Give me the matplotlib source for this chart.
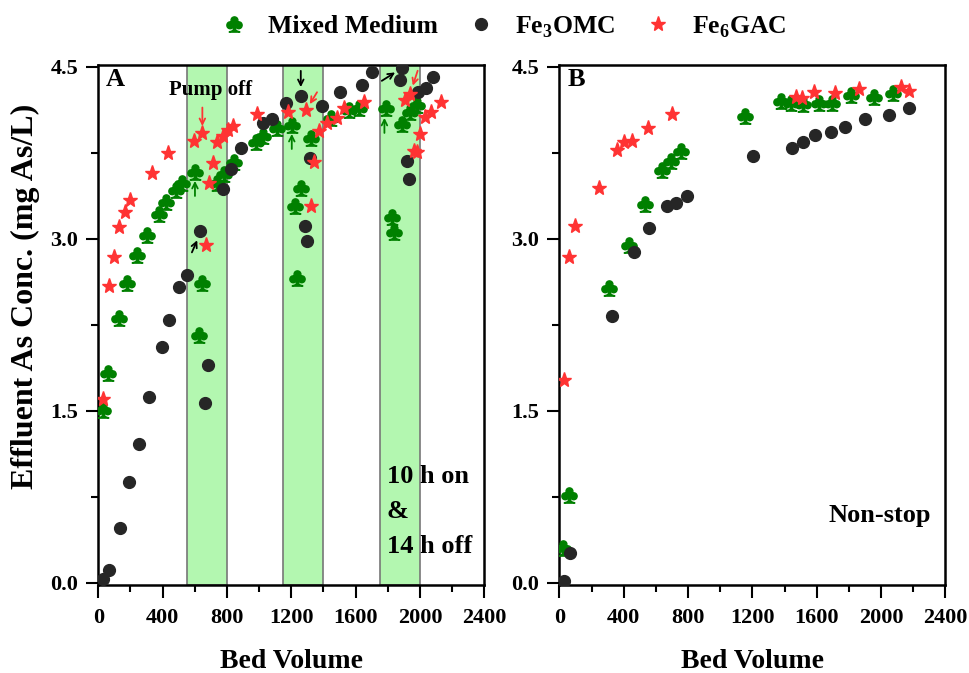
import matplotlib
matplotlib.use('Agg')
import matplotlib.pyplot as plt
from matplotlib.ticker import MultipleLocator, FormatStrFormatter

plt.rcParams['font.family'] = ['Liberation Serif', 'DejaVu Serif']
plt.rcParams['font.weight'] = 'bold'
plt.rcParams['mathtext.fontset'] = 'custom'
plt.rcParams['mathtext.rm'] = 'Liberation Serif:bold'
plt.rcParams['mathtext.bf'] = 'Liberation Serif:bold'

# ---- panel A: 10 h on / 14 h off ----
a_mix_x = [31, 62, 131, 180, 243, 301, 378, 421, 483, 519, 601, 628, 647, 736, 782, 844,
           979, 1027, 1114, 1203, 1224, 1234, 1259, 1321, 1446, 1561, 1624, 1788, 1829,
           1840, 1891, 1935, 1981]
a_mix_y = [1.507, 1.827, 2.307, 2.613, 2.86, 3.034, 3.215, 3.325, 3.427, 3.485, 3.587, 2.161,
           2.613, 3.485, 3.564, 3.674, 3.843, 3.898, 3.965, 3.994, 3.287, 2.661, 3.447, 3.883,
           4.052, 4.125, 4.14, 4.145, 3.194, 3.063, 4.003, 4.105, 4.168]

a_omc_x = [31, 68, 135, 191, 253, 315, 394, 442, 504, 550, 633, 664, 680, 778, 826, 886,
           1027, 1079, 1168, 1259, 1286, 1296, 1317, 1390, 1504, 1639, 1701, 1877, 1891,
           1922, 1933, 1987, 2037, 2080]
a_omc_y = [0.03, 0.111, 0.48, 0.881, 1.21, 1.623, 2.054, 2.292, 2.578, 2.685, 3.069, 1.565,
           1.9, 3.435, 3.61, 3.79, 4.014, 4.046, 4.189, 4.247, 3.115, 2.982, 3.703, 4.16,
           4.285, 4.343, 4.454, 4.386, 4.489, 3.68, 3.52, 4.285, 4.32, 4.415]

a_gac_x = [31, 67, 98, 131, 166, 197, 336, 432, 597, 647, 670, 691, 711, 741, 774, 809, 840,
           989, 1178, 1292, 1321, 1342, 1375, 1421, 1483, 1528, 1649, 1908, 1935, 1964, 1981,
           2001, 2032, 2068, 2130]
a_gac_y = [1.603, 2.589, 2.845, 3.101, 3.232, 3.339, 3.578, 3.747, 3.854, 3.921, 2.947, 3.485,
           3.665, 3.843, 3.898, 3.95, 3.985, 4.087, 4.105, 4.125, 3.287, 3.668, 3.941, 4.014,
           4.052, 4.14, 4.197, 4.212, 4.262, 3.77, 3.756, 3.915, 4.066, 4.11, 4.197]

# pump-off periods (bed volume)
off_start = [550, 1150, 1750]
off_end = [800, 1400, 2000]

# ---- panel B: non-stop ----
b_mix_x = [24, 61, 309, 434, 531, 639, 691, 753, 1152, 1380, 1442, 1514, 1614, 1697, 1811,
           1953, 2073]
b_mix_y = [0.3, 0.765, 2.569, 2.947, 3.304, 3.601, 3.68, 3.767, 4.075, 4.206, 4.189, 4.177,
           4.183, 4.189, 4.256, 4.241, 4.27]

b_omc_x = [28, 65, 324, 463, 556, 666, 722, 790, 1204, 1446, 1514, 1587, 1691, 1778, 1898,
           2047, 2173]
b_omc_y = [0.017, 0.256, 2.33, 2.888, 3.098, 3.29, 3.316, 3.374, 3.723, 3.79, 3.848, 3.907,
           3.93, 3.979, 4.046, 4.081, 4.145]

b_gac_x = [28, 61, 96, 245, 355, 403, 448, 548, 701, 1469, 1510, 1581, 1711, 1862, 2125, 2173]
b_gac_y = [1.769, 2.839, 3.115, 3.441, 3.776, 3.843, 3.854, 3.97, 4.087, 4.241, 4.232, 4.279,
           4.27, 4.308, 4.328, 4.293]

green = '#008000'
red = '#ff3333'
dark = '#262626'

W, H = 970, 673
fig = plt.figure(figsize=(W / 100, H / 100), dpi=100)
axA = fig.add_axes([98.3 / W, 88 / H, 386 / W, 520 / H])
axB = fig.add_axes([559.5 / W, 88 / H, 386 / W, 520 / H])


def draw(ax, mx, my, ox, oy, gx, gy):
    h1, = ax.plot(mx, my, ls='none', marker=r'$\clubsuit$', ms=11, color=green, zorder=3)
    h2, = ax.plot(ox, oy, ls='none', marker='o', ms=8.5, color=dark, zorder=4)
    h3, = ax.plot(gx, gy, ls='none', marker='*', ms=11, color=red, zorder=5)
    ax.set_xlim(0, 2400)
    ax.set_ylim(-0.02, 4.517)
    ax.xaxis.set_major_locator(MultipleLocator(400))
    ax.xaxis.set_minor_locator(MultipleLocator(200))
    ax.yaxis.set_major_locator(MultipleLocator(1.5))
    ax.yaxis.set_minor_locator(MultipleLocator(0.75))
    ax.yaxis.set_major_formatter(FormatStrFormatter('%.1f'))
    ax.tick_params(which='both', direction='out', width=1.5, labelsize=16)
    ax.tick_params(axis='x', pad=7.5)
    ax.tick_params(axis='y', pad=5.5)
    ax.tick_params(which='major', length=9)
    ax.tick_params(which='minor', length=5)
    for s in ax.spines.values():
        s.set_linewidth(1.8)
    ax.set_xlabel('Bed Volume', fontsize=20, fontweight='bold', labelpad=15)
    return h1, h2, h3


handles = draw(axA, a_mix_x, a_mix_y, a_omc_x, a_omc_y, a_gac_x, a_gac_y)
draw(axB, b_mix_x, b_mix_y, b_omc_x, b_omc_y, b_gac_x, b_gac_y)

for s, e in zip(off_start, off_end):
    axA.axvspan(s, e, facecolor='#b3f7b0', edgecolor='#777777', lw=1.2, zorder=1)

# arrows marking pump-off points
arrows = [
    ((647, 4.17), (647, 3.96), red),
    ((601, 3.35), (601, 3.53), green),
    ((575, 2.86), (622, 3.01), 'black'),
    ((1259, 4.49), (1259, 4.30), 'black'),
    ((1369, 4.30), (1306, 4.155), red),
    ((1203, 3.76), (1203, 3.94), green),
    ((1748, 4.366), (1860, 4.465), 'black'),
    ((1991, 4.49), (1950, 4.314), red),
    ((1779, 3.90), (1779, 4.08), green),
]
for start, end, c in arrows:
    axA.annotate('', xy=end, xytext=start,
                 arrowprops=dict(arrowstyle='->', color=c, lw=1.3), zorder=6)

axA.text(697, 4.3, 'Pump off', fontsize=15, fontweight='bold', ha='center', va='center')
axA.text(0.02, 0.995, 'A', transform=axA.transAxes, fontsize=19, fontweight='bold',
         va='top', ha='left')
axB.text(0.02, 0.995, 'B', transform=axB.transAxes, fontsize=19, fontweight='bold',
         va='top', ha='left')
axA.text(1795, 0.925, '10 h on', fontsize=19, fontweight='bold', va='center')
axA.text(1795, 0.62, '&', fontsize=19, fontweight='bold', va='center')
axA.text(1795, 0.314, '14 h off', fontsize=19, fontweight='bold', va='center')
axB.text(1990, 0.59, 'Non-stop', fontsize=19, fontweight='bold', va='center', ha='center')

fig.text(25 / W, 1 - 296 / H, 'Effluent As Conc. (mg As/L)', rotation=90, fontsize=23,
         fontweight='bold', ha='center', va='center')

fig.legend(handles, ['Mixed Medium', r'Fe$_3$OMC', r'Fe$_6$GAC'], loc='center',
           bbox_to_anchor=(0.518, 1 - 27 / H), ncol=3, frameon=False, fontsize=18.5,
           handlelength=1.2, handletextpad=0.75, columnspacing=1.05)

fig.savefig('out.png', dpi=100)
